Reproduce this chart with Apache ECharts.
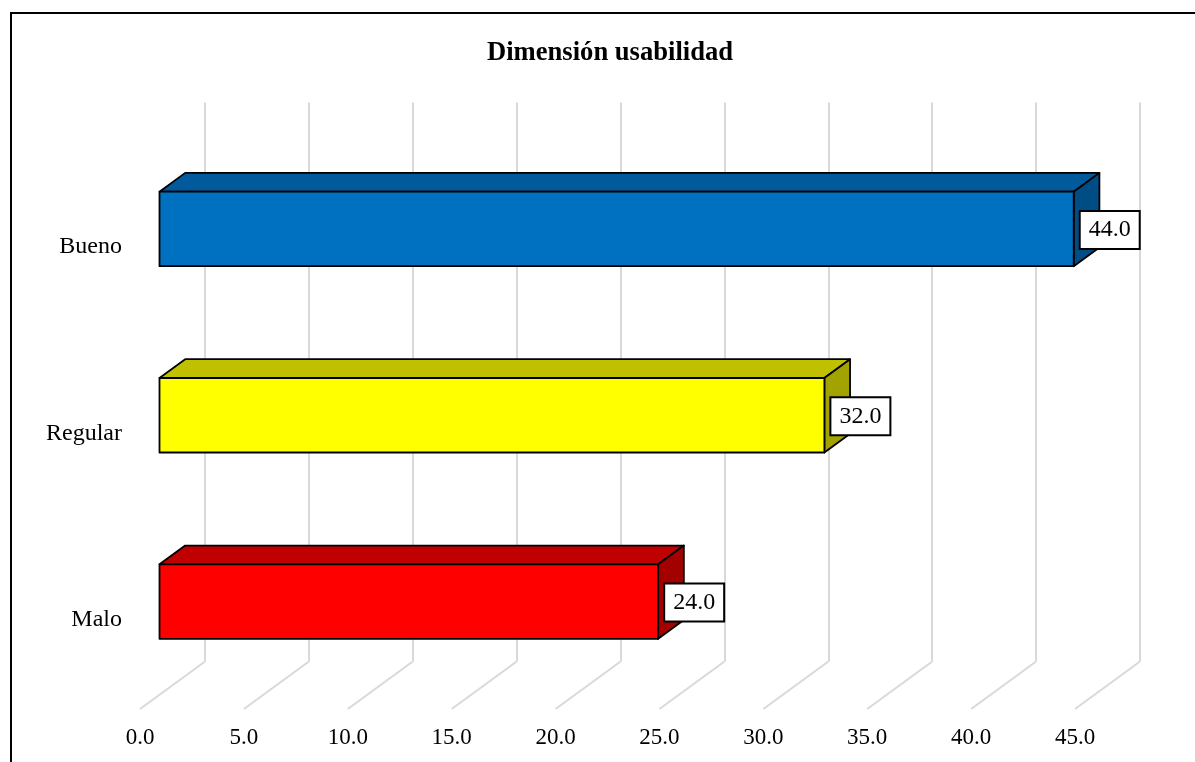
<!DOCTYPE html>
<html>
<head>
<meta charset="utf-8">
<title>Dimensión usabilidad</title>
<script src="https://cdn.jsdelivr.net/npm/echarts@6/dist/echarts.min.js"></script>
<style>
  html, body { margin: 0; padding: 0; background: #fff; }
  #chart { width: 1195px; height: 762px; }
</style>
</head>
<body>
<div id="chart"></div>
<script>
// ---- data ----
const categories = ['Malo', 'Regular', 'Bueno'];
const values = [24.0, 32.0, 44.0];
const axisTicks = [0, 5, 10, 15, 20, 25, 30, 35, 40, 45];
const titleText = 'Dimensión usabilidad';

// ---- styling ----
const FONT = '"Liberation Serif", "Times New Roman", serif';
const faceColors = [
  { front: '#FF0000', top: '#C00000', side: '#A30000' },
  { front: '#FFFF00', top: '#C0C000', side: '#A3A300' },
  { front: '#0070C0', top: '#005A9C', side: '#004C84' }
];
const GRID_COLOR = '#D9D9D9';

// 3D layout: full depth of the floor, and the planes inside it
const DEPTH = { x: 65, y: -47.5 };     // front floor edge -> back wall
const BAR_FRONT = 0.30;                // bar front face position (fraction of depth)
const BAR_DEPTH = 0.395;               // bar thickness (fraction of depth)
const PLOT = { left: 140, top: 150, width: 935, height: 559 }; // front plane

function planeGrid(f) {
  return {
    left: PLOT.left + DEPTH.x * f,
    top: PLOT.top + DEPTH.y * f,
    width: PLOT.width,
    height: PLOT.height,
    containLabel: false
  };
}

const valueAxisBase = { type: 'value', min: 0, max: 45, interval: 5 };

const chart = echarts.init(document.getElementById('chart'), null, { renderer: 'canvas' });

const option = {
  backgroundColor: '#fff',
  animation: false,
  title: {
    text: titleText,
    left: 482,
    top: 35,
    textStyle: { fontFamily: FONT, fontSize: 26.6, fontWeight: 'bold', color: '#000' }
  },
  graphic: [{
    type: 'rect',
    shape: { x: 11, y: 13, width: 1400, height: 1000 },
    style: { fill: 'none', stroke: '#000', lineWidth: 2 },
    silent: true,
    z: 100
  }],
  grid: [planeGrid(1), planeGrid(BAR_FRONT), planeGrid(0)],
  xAxis: [
    // back wall: vertical gridlines
    Object.assign({}, valueAxisBase, {
      gridIndex: 0,
      axisLine: { show: false }, axisTick: { show: false }, axisLabel: { show: false },
      splitLine: { show: true, lineStyle: { color: GRID_COLOR, width: 2 } }
    }),
    // bar plane
    Object.assign({}, valueAxisBase, {
      gridIndex: 1,
      axisLine: { show: false }, axisTick: { show: false }, axisLabel: { show: false },
      splitLine: { show: false }
    }),
    // front edge: tick labels
    Object.assign({}, valueAxisBase, {
      gridIndex: 2,
      axisLine: { show: false }, axisTick: { show: false },
      splitLine: { show: false },
      axisLabel: {
        show: true, margin: 17, color: '#000',
        fontFamily: FONT, fontSize: 23,
        formatter: v => v.toFixed(1)
      }
    })
  ],
  yAxis: [0, 1, 2].map(g => ({
    type: 'category',
    gridIndex: g,
    data: categories,
    axisLine: { show: false }, axisTick: { show: false }, splitLine: { show: false },
    axisLabel: g === 2
      ? {
          show: true, margin: 18,
          formatter: v => '{c|' + v + '}',
          rich: {
            c: { color: '#000', fontFamily: FONT, fontSize: 24, padding: [8, 0, 0, 0] }
          }
        }
      : { show: false }
  })),
  series: [
    // floor lines running from the back wall to the front edge
    {
      type: 'custom',
      xAxisIndex: 0, yAxisIndex: 0,
      silent: true,
      z: 1,
      data: axisTicks.map(t => [t]),
      renderItem: function (params, api) {
        const cs = params.coordSys;
        const x = api.coord([api.value(0), 0])[0];
        const yb = cs.y + cs.height;
        return {
          type: 'line',
          shape: { x1: x, y1: yb, x2: x - DEPTH.x, y2: yb - DEPTH.y },
          style: { stroke: GRID_COLOR, lineWidth: 2 }
        };
      }
    },
    // 3D bars with value labels
    {
      type: 'custom',
      xAxisIndex: 1, yAxisIndex: 1,
      z: 5,
      data: values.map((v, i) => [v, i]),
      renderItem: function (params, api) {
        const v = api.value(0);
        const idx = api.value(1);
        const p0 = api.coord([0, idx]);
        const p1 = api.coord([v, idx]);
        const h = api.size([0, 1])[1] * 0.4;
        const x0 = p0[0], x1 = p1[0];
        const yT = p0[1] - h / 2, yB = p0[1] + h / 2;
        const dx = DEPTH.x * BAR_DEPTH, dy = DEPTH.y * BAR_DEPTH;
        const c = faceColors[idx];
        const stroke = { stroke: '#000', lineWidth: 1.8, lineJoin: 'round' };
        return {
          type: 'group',
          children: [
            {
              type: 'polygon',
              shape: { points: [[x0, yT], [x1, yT], [x1 + dx, yT + dy], [x0 + dx, yT + dy]] },
              style: Object.assign({ fill: c.top }, stroke)
            },
            {
              type: 'polygon',
              shape: { points: [[x1, yT], [x1 + dx, yT + dy], [x1 + dx, yB + dy], [x1, yB]] },
              style: Object.assign({ fill: c.side }, stroke)
            },
            {
              type: 'rect',
              shape: { x: x0, y: yT, width: x1 - x0, height: yB - yT },
              style: Object.assign({ fill: c.front }, stroke)
            },
            {
              type: 'text',
              x: x1 + 7,
              y: p0[1] + 1,
              z2: 10,
              style: {
                text: v.toFixed(1),
                fill: '#000',
                font: '24px ' + FONT,
                align: 'left',
                verticalAlign: 'middle',
                backgroundColor: '#fff',
                borderColor: '#000',
                borderWidth: 2,
                padding: [6, 8, 6, 8]
              }
            }
          ]
        };
      }
    }
  ]
};

chart.setOption(option);
</script>
</body>
</html>
